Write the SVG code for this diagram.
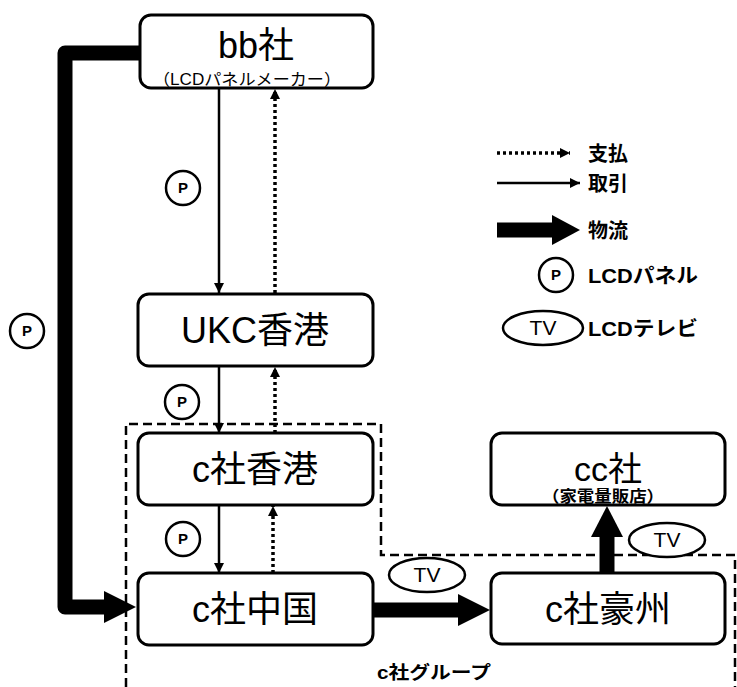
<svg xmlns="http://www.w3.org/2000/svg" width="737" height="687" viewBox="0 0 737 687">
<defs>
<style>
.box{fill:#fff;stroke:#000;stroke-width:3}
.t{font-family:"Liberation Sans","Noto Sans CJK JP",sans-serif;fill:#000;text-anchor:middle}
.big{font-size:36px}
.sub{font-size:16px}
.lg{font-size:20px;font-weight:bold;text-anchor:start}
.thin{stroke:#000;stroke-width:2.5;fill:none}
.dot{stroke:#000;stroke-width:3.5;fill:none;stroke-dasharray:3 3}
.thick{stroke:#000;stroke-width:15;fill:none}
.grp{stroke:#000;stroke-width:2.5;fill:none;stroke-dasharray:9 5}
.circ{fill:#fff;stroke:#000;stroke-width:2.5}
.pt{font-family:"Liberation Sans",sans-serif;font-size:15px;font-weight:bold;text-anchor:middle}
.tv{font-family:"Liberation Sans",sans-serif;font-size:21px;text-anchor:middle}
</style>
<marker id="ah" viewBox="0 0 10 10" refX="10" refY="5" markerWidth="10" markerHeight="10" markerUnits="userSpaceOnUse" orient="auto">
<path d="M0,0 L10,5 L0,10 Z" fill="#000"/>
</marker>
</defs>

<g id="group-boundary">
<path class="grp" d="M126,687 V424 H381 V555 H735 V687"/>
<text class="t" x="434" y="679" style="font-size:18px;font-weight:bold" textLength="114" lengthAdjust="spacingAndGlyphs">c社グループ</text>
</g>

<g id="connectors">
<line class="thin" x1="219" y1="88" x2="219" y2="293" marker-end="url(#ah)"/>
<line class="dot" x1="275" y1="293" x2="275" y2="89" marker-end="url(#ah)"/>
<line class="thin" x1="219" y1="366" x2="219" y2="433" marker-end="url(#ah)"/>
<line class="dot" x1="275" y1="433" x2="275" y2="367" marker-end="url(#ah)"/>
<line class="thin" x1="219" y1="505" x2="219" y2="573" marker-end="url(#ah)"/>
<line class="dot" x1="273" y1="573" x2="273" y2="506" marker-end="url(#ah)"/>
<path class="thick" d="M140,53 H65 V607 H106" stroke-linejoin="round"/>
<polygon points="104,591 136,607 104,623" fill="#000"/>
<line class="thick" x1="374" y1="610" x2="460" y2="610"/>
<polygon points="458,594 490,610 458,626" fill="#000"/>
<line class="thick" x1="607" y1="573" x2="607" y2="535"/>
<polygon points="591,537 607,506 623,537" fill="#000"/>
<circle class="circ" cx="183" cy="188" r="17"/><text class="pt" x="183" y="193">P</text>
<circle class="circ" cx="182" cy="402" r="17"/><text class="pt" x="182" y="407">P</text>
<circle class="circ" cx="183" cy="539" r="17"/><text class="pt" x="183" y="544">P</text>
<circle class="circ" cx="27" cy="331" r="17"/><text class="pt" x="27" y="336">P</text>
<ellipse class="circ" cx="427" cy="575" rx="38" ry="17"/><text class="tv" x="427" y="582">TV</text>
<ellipse class="circ" cx="667" cy="540" rx="38" ry="17"/><text class="tv" x="667" y="547">TV</text>
</g>

<g id="bb">
<rect class="box" x="140" y="15" width="233" height="73" rx="11"/>
<text class="t big" x="256" y="58">bb社</text>
<text class="t sub" x="247" y="85" textLength="188" lengthAdjust="spacingAndGlyphs">（LCDパネルメーカー）</text>
</g>
<g id="ukc">
<rect class="box" x="138" y="294" width="235" height="72" rx="11"/>
<text class="t big" x="255" y="343">UKC香港</text>
</g>
<g id="c-hk">
<rect class="box" x="138" y="433" width="235" height="72" rx="11"/>
<text class="t big" x="255" y="482">c社香港</text>
</g>
<g id="c-cn">
<rect class="box" x="138" y="573" width="235" height="72" rx="11"/>
<text class="t big" x="255" y="622">c社中国</text>
</g>
<g id="c-au">
<rect class="box" x="491" y="573" width="234" height="71" rx="11"/>
<text class="t big" x="608" y="622">c社豪州</text>
</g>
<g id="cc">
<rect class="box" x="491" y="433" width="234" height="72" rx="11"/>
<text class="t" x="608" y="481" style="font-size:34px">cc社</text>
<text class="t sub" x="603" y="502" style="font-weight:bold" textLength="122" lengthAdjust="spacingAndGlyphs">（家電量販店）</text>
</g>

<g id="legend">
<line class="dot" x1="497" y1="153" x2="570" y2="153" marker-end="url(#ah)"/>
<text class="t lg" x="588" y="161">支払</text>
<line class="thin" x1="497" y1="183" x2="580" y2="183" marker-end="url(#ah)"/>
<text class="t lg" x="588" y="191">取引</text>
<line class="thick" x1="497" y1="230" x2="554" y2="230"/>
<polygon points="552,215 580,230 552,245" fill="#000"/>
<text class="t lg" x="588" y="238">物流</text>
<circle class="circ" cx="556" cy="275" r="17"/><text class="pt" x="556" y="280">P</text>
<text class="t lg" x="588" y="283" textLength="110" lengthAdjust="spacingAndGlyphs">LCDパネル</text>
<ellipse class="circ" cx="543" cy="328" rx="40" ry="17"/><text class="tv" x="543" y="335">TV</text>
<text class="t lg" x="588" y="336" textLength="110" lengthAdjust="spacingAndGlyphs">LCDテレビ</text>
</g>
</svg>
